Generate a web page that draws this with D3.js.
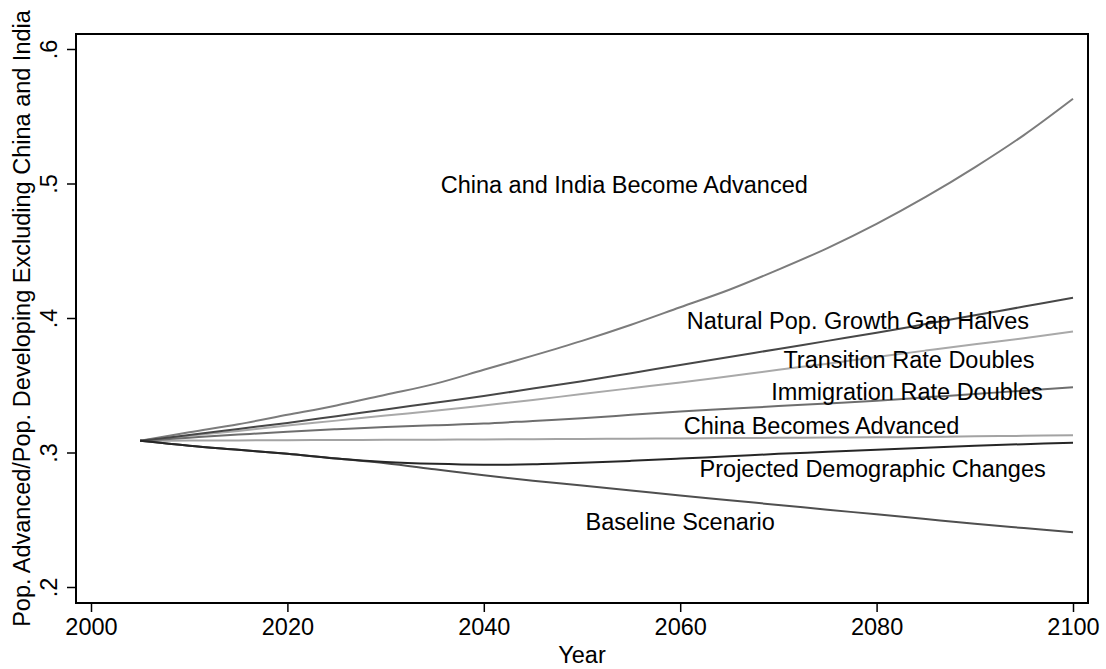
<!DOCTYPE html>
<html>
<head>
<meta charset="utf-8">
<script src="https://cdn.jsdelivr.net/npm/d3@7"></script>
<style>
  body { margin: 0; background: #fff; }
  #chart text { font-family: "Liberation Sans", Arial, sans-serif; fill: #000; }
</style>
</head>
<body>
<div id="chart"></div>
<script>
const years = [2005, 2010, 2015, 2020, 2025, 2030, 2035, 2040, 2045, 2050,
    2055, 2060, 2065, 2070, 2075, 2080, 2085, 2090, 2095, 2100];

const chinaIndiaAdvanced = [.3087, .315, .321, .328, .335, .343, .351, .3615, .372, .383,
    .395, .408, .421, .436, .452, .470, .490, .512, .536, .563];
const naturalGrowthHalves = [.3087, .313, .3175, .322, .327, .332, .337, .342, .3475, .353,
    .359, .365, .371, .377, .383, .389, .3955, .402, .4085, .415];
const transitionDoubles = [.3087, .3125, .316, .320, .3237, .3275, .331, .335, .339, .3435,
    .3478, .352, .3567, .3615, .366, .371, .3758, .3805, .385, .390];
const immigrationDoubles = [.3087, .311, .3133, .3155, .3173, .319, .3203, .3215, .3235, .3255,
    .328, .3305, .3325, .3345, .3365, .3385, .341, .3435, .346, .3485];
const chinaAdvanced = [.3087, .3089, .309, .3092, .3093, .3094, .3095, .3097, .3099, .3101,
    .3103, .3105, .3107, .3109, .3111, .3113, .3116, .312, .3124, .3128];
const projectedChanges = [.3087, .305, .302, .299, .2955, .293, .2916, .2909, .2912, .2923,
    .2938, .2955, .2972, .299, .3005, .302, .3035, .305, .3062, .3073];
const baseline = [.3087, .305, .302, .299, .2955, .292, .2875, .283, .279, .2755,
    .2718, .268, .2645, .261, .2575, .254, .2505, .247, .2438, .2407];

const xTicks = [2000, 2020, 2040, 2060, 2080, 2100];
const yTicks = [.2, .3, .4, .5, .6];
const yTickLabels = [".2", ".3", ".4", ".5", ".6"];

const seriesNames = ["China and India Become Advanced", "Natural Pop. Growth Gap Halves",
    "Transition Rate Doubles", "Immigration Rate Doubles", "China Becomes Advanced",
    "Projected Demographic Changes", "Baseline Scenario"];
const seriesValues = [chinaIndiaAdvanced, naturalGrowthHalves, transitionDoubles,
    immigrationDoubles, chinaAdvanced, projectedChanges, baseline];
const seriesColors = ["#7c7c7c", "#474747", "#a9a9a9", "#6e6e6e", "#a3a3a3", "#262626", "#4f4f4f"];

// label anchor points (year, value), like Stata text() options
const labelYears = [2054.3, 2078.1, 2083.3, 2083.1, 2074.4, 2079.6, 2060];
const labelValues = [.499, .3978, .369, .3453, .3197, .2882, .2487];

const width = 1106, height = 669;
const frame = { left: 76, right: 1088, top: 34, bottom: 603 };
const fontSize = "23.5px";

const svg = d3.select("#chart").append("svg")
    .attr("width", width)
    .attr("height", height);

const x = d3.scaleLinear().domain([2000, 2100]).range([91, 1073]);
const y = d3.scaleLinear().domain([.2, .6]).range([587, 49]);

const line = d3.line()
    .x((d, i) => x(years[i]))
    .y(d => y(d))
    .curve(d3.curveCatmullRom);

// draw lighter lines first so dark ones sit on top
const drawOrder = [0, 2, 4, 3, 1, 6, 5];
drawOrder.forEach(i => {
    svg.append("path")
        .datum(seriesValues[i])
        .attr("fill", "none")
        .attr("stroke", seriesColors[i])
        .attr("stroke-width", 2)
        .attr("d", line);
});

svg.append("rect")
    .attr("x", frame.left)
    .attr("y", frame.top)
    .attr("width", frame.right - frame.left)
    .attr("height", frame.bottom - frame.top)
    .attr("fill", "none")
    .attr("stroke", "#000")
    .attr("stroke-width", 2);

const xAxis = svg.append("g")
    .attr("transform", `translate(0,${frame.bottom})`)
    .call(d3.axisBottom(x).tickValues(xTicks).tickFormat(d3.format("d")).tickSize(9).tickPadding(6));
xAxis.select(".domain").remove();
xAxis.selectAll(".tick line").attr("stroke", "#000").attr("stroke-width", 1.5);
xAxis.selectAll(".tick text").style("font-size", fontSize);

const yAxis = svg.append("g")
    .attr("transform", `translate(${frame.left},0)`)
    .call(d3.axisLeft(y).tickValues(yTicks).tickFormat((d, i) => yTickLabels[i]).tickSize(9));
yAxis.select(".domain").remove();
yAxis.selectAll(".tick line").attr("stroke", "#000").attr("stroke-width", 1.5);
yAxis.selectAll(".tick text")
    .attr("x", null).attr("dy", null)
    .attr("transform", "translate(-19,0) rotate(-90)")
    .attr("text-anchor", "middle")
    .style("font-size", fontSize);

svg.append("text")
    .attr("x", (frame.left + frame.right) / 2)
    .attr("y", 663)
    .attr("text-anchor", "middle")
    .style("font-size", fontSize)
    .text("Year");

svg.append("text")
    .attr("transform", `translate(30,${(frame.top + frame.bottom) / 2}) rotate(-90)`)
    .attr("text-anchor", "middle")
    .style("font-size", fontSize)
    .text("Pop. Advanced/Pop. Developing Excluding China and India");

svg.selectAll(".series-label")
    .data(seriesNames)
    .enter().append("text")
    .attr("class", "series-label")
    .attr("x", (d, i) => x(labelYears[i]))
    .attr("y", (d, i) => y(labelValues[i]))
    .attr("dy", "0.35em")
    .attr("text-anchor", "middle")
    .style("font-size", fontSize)
    .text(d => d);
</script>
</body>
</html>
